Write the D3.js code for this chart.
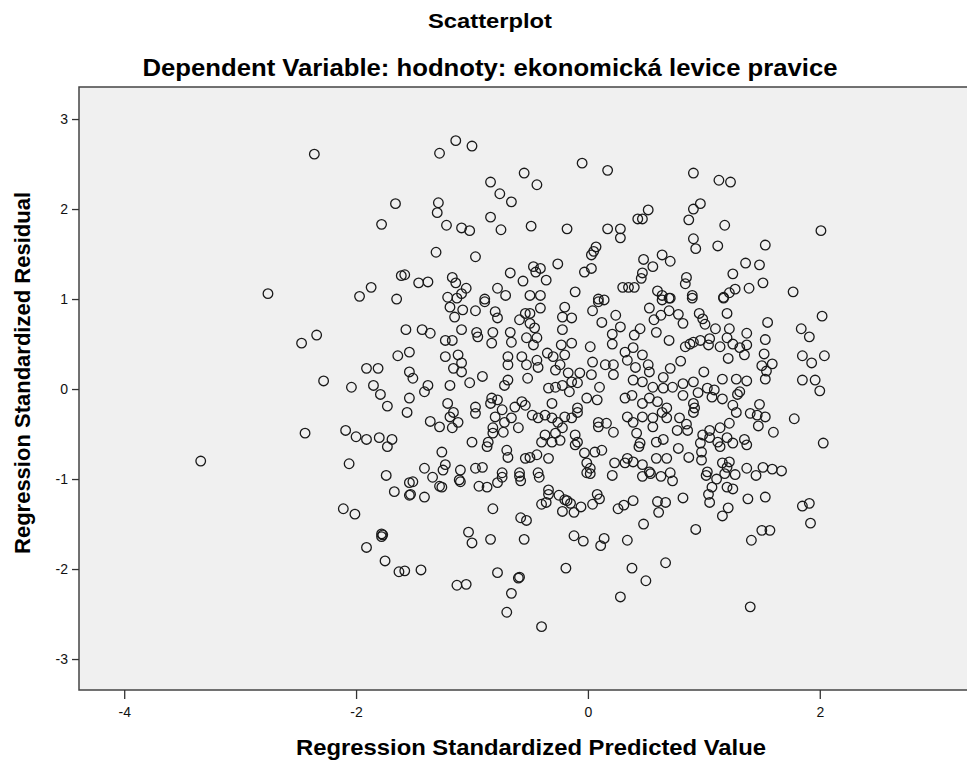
<!DOCTYPE html>
<html>
<head>
<meta charset="utf-8">
<script src="https://cdn.jsdelivr.net/npm/d3@7"></script>
<style>
  body { margin: 0; background: #fff; }
  text { font-family: "Liberation Sans", Arial, sans-serif; }
</style>
</head>
<body>
<svg width="967" height="762"></svg>
<script>
// [standardized predicted value, standardized residual] for each case
const outerCases = [
  [-2.36,2.61],[-1.66,2.06],[-1.78,1.83],[-1.61,1.26],[-1.87,1.13],[-1.97,1.03],[-1.65,1.00],[-2.76,1.06],
  [-1.28,2.62],[-1.14,2.76],[-1.00,2.70],[-0.05,2.51],[0.17,2.43],[-0.55,2.40],[-0.84,2.30],[-0.44,2.27],
  [-0.76,2.17],[-0.66,2.08],[-1.29,2.07],[-1.30,1.96],[-0.84,1.91],[-1.22,1.82],[-1.09,1.79],[-1.02,1.76],
  [-0.75,1.77],[-0.49,1.81],[-0.18,1.78],[0.17,1.78],[0.28,1.78],[0.28,1.68],[-1.31,1.52],[-0.97,1.47],
  [-1.58,1.27],[-1.46,1.18],[-1.38,1.19],[-1.17,1.24],[-1.14,1.18],[-1.05,1.12],[-1.09,1.06],[-1.21,1.02],
  [-0.78,1.12],[-0.71,1.04],[-0.89,1.00],[-0.67,1.29],[-0.56,1.20],[-0.47,1.36],[-0.41,1.34],[-0.45,1.30],
  [-0.36,1.21],[-0.50,1.04],[-0.41,1.04],[-0.26,1.39],[-0.11,1.08],[-0.03,1.30],[0.03,1.34],[0.03,1.49],
  [0.05,1.53],[0.07,1.58],[0.09,1.00],[0.14,0.99],[0.30,1.13],[0.35,1.13],[0.40,1.13],
  [0.91,2.40],[1.13,2.32],[1.23,2.30],[0.97,2.06],[0.91,2.00],[0.87,1.88],[1.18,1.82],[2.01,1.76],
  [0.52,1.99],[0.43,1.89],[0.47,1.89],[0.91,1.67],[0.93,1.56],[1.12,1.59],[1.53,1.60],[0.64,1.49],
  [0.71,1.42],[0.48,1.44],[0.56,1.36],[0.47,1.29],[0.46,1.23],[0.85,1.24],[0.84,1.17],[0.90,1.04],
  [0.60,1.09],[0.64,1.04],[0.70,1.01],[1.25,1.28],[1.36,1.40],[1.48,1.38],[1.51,1.18],[1.39,1.12],
  [1.27,1.11],[1.22,1.07],[1.17,1.02],[1.77,1.08],
  [-1.57,0.66],[-2.34,0.60],[-2.47,0.51],[-1.64,0.37],[-1.54,0.41],[-1.91,0.23],[-1.81,0.23],[-1.54,0.19],
  [-2.28,0.09],[-2.04,0.02],[-1.85,0.04],[-1.79,-0.06],[-1.73,-0.19],[-1.54,-0.10],[-1.56,-0.26],[-2.44,-0.49],
  [-2.09,-0.46],[-2.00,-0.53],[-1.91,-0.56],[-1.80,-0.54],[-1.69,-0.56],[-1.73,-0.64],[-3.34,-0.80],[-2.06,-0.83],
  [-1.74,-0.96],[-1.67,-1.14],[-1.54,-1.04],[-1.54,-1.18],[-2.11,-1.33],[-2.01,-1.39],[-1.78,-1.61],[-1.78,-1.64],
  [-1.77,-1.62],[-1.91,-1.76],[-1.75,-1.91],[-1.63,-2.03],
  [-1.51,-1.03],[-1.53,-1.17],[-1.41,-1.20],[-1.34,-0.98],[-1.28,-1.08],[-1.26,-1.09],[-1.11,-1.01],[-1.10,-1.03],
  [-0.94,-1.08],[-0.87,-1.09],[-0.78,-1.04],[-0.74,-0.98],[-0.59,-0.97],[-0.58,-1.02],[-0.42,-0.98],[-0.82,-1.33],
  [-0.58,-1.43],[-0.53,-1.46],[-1.03,-1.59],[-1.00,-1.71],[-0.84,-1.67],[-0.55,-1.67],[-0.34,-1.12],[-0.34,-1.17],
  [-0.25,-1.18],[-0.40,-1.28],[-0.36,-1.26],[-0.20,-1.23],[-0.18,-1.24],[-0.15,-1.27],[-0.22,-1.36],[-0.12,-1.37],
  [-0.06,-1.31],[0.04,-1.28],[0.08,-1.17],[0.10,-1.22],[-0.01,-0.93],[0.02,-0.94],[0.21,-0.96],[0.26,-1.33],
  [0.31,-1.29],[0.39,-1.24],[-0.12,-1.63],[-0.04,-1.69],[0.11,-1.74],[0.14,-1.66],[0.34,-1.68],[0.38,-1.99],
  [0.28,-2.31],[-1.44,-2.01],[-1.58,-2.02],[-1.13,-2.18],[-1.05,-2.17],[-0.78,-2.04],[-0.59,-2.09],[-0.60,-2.10],
  [-0.66,-2.27],[-0.70,-2.48],[-0.40,-2.64],[-0.19,-1.99],
  [0.47,-0.97],[0.54,-0.94],[0.63,-0.97],[0.73,-1.02],[0.60,-1.25],[0.67,-1.26],[0.61,-1.37],[0.82,-1.21],
  [0.48,-1.50],[0.93,-1.56],[1.02,-0.96],[1.11,-1.00],[1.07,-1.09],[1.04,-1.17],[1.05,-1.26],[1.20,-1.09],
  [1.25,-1.11],[1.21,-1.32],[1.16,-1.41],[1.18,-0.94],[1.27,-0.95],[1.38,-1.22],[1.53,-1.20],[1.45,-0.96],
  [1.41,-1.68],[1.50,-1.57],[1.57,-1.57],[1.85,-1.30],[1.91,-1.27],[1.92,-1.49],[0.67,-1.93],[0.50,-2.13],
  [1.40,-2.42],
  [2.02,0.81],[1.84,0.67],[1.91,0.58],[1.85,0.37],[1.93,0.29],[2.04,0.37],[1.85,0.10],[1.96,0.10],
  [2.00,-0.02],[1.78,-0.33],[2.03,-0.60],[1.55,0.74],[1.53,0.55],[1.52,0.39],[1.50,0.26],[1.59,0.28],
  [1.53,0.11],[1.54,0.20],[1.48,-0.17],[1.46,-0.29],[1.53,-0.31],[1.47,-0.41],[1.60,-0.48],[1.37,-0.62],
  [1.35,-0.56],[1.67,-0.91]
];

const rightCoreCases = [
  [0.53,0.90],[0.63,0.82],[0.70,0.87],[0.78,0.83],[0.71,1.01],[0.90,1.01],[1.17,1.01],[0.64,0.99],
  [1.20,0.84],[0.96,0.84],[0.57,0.77],[0.59,0.63],[0.45,0.67],[0.40,0.60],[0.70,0.54],[0.82,0.73],
  [0.99,0.78],[1.01,0.72],[1.10,0.67],[1.22,0.67],[1.37,0.62],[0.91,0.52],[0.97,0.54],[1.05,0.56],
  [1.04,0.49],[1.14,0.47],[1.20,0.57],[1.25,0.50],[1.31,0.46],[1.37,0.49],[1.35,0.38],[1.21,0.34],
  [0.84,0.47],[0.88,0.50],[0.39,0.46],[0.47,0.38],[0.41,0.24],[0.52,0.27],[0.53,0.19],[0.71,0.23],
  [0.80,0.31],[0.65,0.13],[1.00,0.19],[1.16,0.11],[1.28,0.11],[1.37,0.09],[0.47,0.08],[0.39,0.10],
  [0.56,0.02],[0.65,0.01],[0.73,0.02],[0.82,0.06],[0.91,0.08],[1.03,0.01],[1.09,-0.01],[1.31,-0.03],
  [1.29,-0.06],[0.82,-0.07],[0.95,-0.04],[1.07,-0.09],[1.16,-0.11],[1.25,-0.18],[0.91,-0.16],[0.92,-0.21],
  [0.91,-0.26],[0.53,-0.10],[0.47,-0.16],[0.60,-0.14],[0.68,-0.21],[0.38,-0.07],[1.28,-0.26],[1.40,-0.27],
  [1.22,-0.38],[1.14,-0.43],[1.05,-0.46],[0.99,-0.51],[0.79,-0.32],[0.85,-0.39],[0.86,-0.46],[0.77,-0.46],
  [0.68,-0.32],[0.64,-0.26],[0.56,-0.32],[0.56,-0.42],[0.47,-0.31],[0.42,-0.49],[0.39,-0.37],[0.65,-0.56],
  [0.59,-0.59],[0.45,-0.60],[0.44,-0.64],[0.78,-0.66],[0.97,-0.60],[1.05,-0.54],[1.12,-0.59],[1.14,-0.64],
  [1.20,-0.54],[1.25,-0.60],[0.98,-0.70],[0.98,-0.79],[0.87,-0.76],[0.68,-0.77],[0.59,-0.77],[0.47,-0.84],
  [0.39,-0.81],[1.03,-0.92],[1.16,-0.82],[1.20,-0.87],[1.22,-0.81],[1.37,-0.88],[1.51,-0.87],[1.59,-0.89],
  [0.71,-0.93],[0.53,-0.92]
];

const centreCases = [
  [-1.13,1.01],[-1.19,0.91],[-1.08,0.88],[-1.15,0.80],[-0.97,0.87],[-0.89,0.97],[-0.80,0.86],[-0.78,0.79],
  [-0.54,0.84],[-0.50,0.84],[-0.41,0.90],[-0.20,0.91],[-0.22,0.80],[-0.14,0.79],[0.04,0.87],[0.09,0.97],
  [0.24,0.82],[-1.43,0.66],[-1.36,0.62],[-1.23,0.54],[-1.17,0.54],[-1.09,0.66],[-0.96,0.63],[-0.95,0.58],
  [-0.82,0.63],[-0.83,0.51],[-0.67,0.63],[-0.66,0.52],[-0.59,0.77],[-0.50,0.73],[-0.46,0.68],[-0.53,0.57],
  [-0.44,0.57],[-0.47,0.49],[-0.22,0.66],[-0.23,0.49],[-0.14,0.51],[0.02,0.47],[0.12,0.74],[0.28,0.69],
  [0.21,0.61],[0.21,0.50],[-1.23,0.36],[-1.12,0.38],[-1.09,0.29],[-1.16,0.23],[-1.09,0.19],[-0.91,0.14],
  [-0.69,0.36],[-0.69,0.27],[-0.57,0.36],[-0.53,0.27],[-0.52,0.12],[-0.44,0.32],[-0.43,0.24],[-0.35,0.40],
  [-0.30,0.36],[-0.24,0.27],[-0.28,0.21],[-0.20,0.38],[-0.17,0.18],[-0.07,0.18],[0.03,0.16],[0.04,0.30],
  [0.15,0.27],[0.22,0.27],[0.22,0.16],[0.32,0.41],[0.34,0.32],[-1.51,0.12],[-1.02,0.07],[-1.38,0.04],
  [-1.41,-0.03],[-1.19,0.04],[-0.72,0.04],[-0.69,0.10],[-0.83,-0.10],[-0.84,-0.16],[-0.78,-0.12],[-0.74,-0.23],
  [-0.63,-0.20],[-0.57,-0.14],[-0.54,-0.18],[-0.31,-0.16],[-0.34,0.01],[-0.28,0.02],[-0.22,0.04],[-0.14,0.08],
  [-0.16,-0.03],[-0.09,0.07],[-0.01,-0.10],[0.08,-0.12],[0.10,0.02],[-0.09,-0.21],[-0.09,-0.26],[0.32,-0.10],
  [-1.21,-0.16],[-1.16,-0.26],[-1.19,-0.31],[-0.97,-0.20],[-0.97,-0.27],[-1.36,-0.36],[-1.28,-0.42],[-1.17,-0.43],
  [-1.12,-0.37],[-0.80,-0.31],[-0.72,-0.37],[-0.66,-0.32],[-0.60,-0.43],[-0.73,-0.48],[-0.82,-0.43],[-0.82,-0.49],
  [-0.86,-0.59],[-0.87,-0.64],[-0.48,-0.29],[-0.43,-0.32],[-0.37,-0.29],[-0.31,-0.32],[-0.26,-0.37],[-0.20,-0.31],
  [-0.14,-0.32],[-0.22,-0.43],[-0.28,-0.49],[-0.37,-0.51],[-0.40,-0.59],[-0.31,-0.59],[-0.24,-0.57],[-0.11,-0.51],
  [-0.09,-0.59],[-0.11,-0.62],[0.09,-0.42],[0.16,-0.38],[0.22,-0.48],[0.34,-0.31],[0.09,-0.37],[-1.00,-0.59],
  [-1.26,-0.70],[-0.70,-0.68],[-0.69,-0.76],[-0.54,-0.77],[-0.50,-0.76],[-0.44,-0.73],[-0.34,-0.77],[-0.03,-0.71],
  [0.06,-0.70],[0.12,-0.68],[-0.01,-0.82],[0.02,-0.88],[0.23,-0.82],[0.32,-0.82],[0.34,-0.77],[-1.41,-0.88],
  [-1.23,-0.84],[-1.25,-0.90],[-1.10,-0.90],[-0.97,-0.88],[-0.91,-0.87],[-0.74,-0.93],[-0.59,-0.93],[-0.43,-0.93]
];

const xTicks = [-4, -2, 0, 2];
const yTicks = [-3, -2, -1, 0, 1, 2, 3];

const cases = outerCases.concat(rightCoreCases, centreCases);

const svg = d3.select("svg");
const plot = { left: 79, top: 87, width: 888, height: 603 };

const x = d3.scaleLinear().domain([-4.39, 3.27]).range([0, plot.width]);
const y = d3.scaleLinear().domain([-3.344, 3.356]).range([plot.height, 0]);

const g = svg.append("g").attr("transform", `translate(${plot.left},${plot.top})`);

g.append("rect")
  .attr("x", 0).attr("y", 0)
  .attr("width", plot.width + 10).attr("height", plot.height)
  .attr("fill", "#f0f0f0")
  .attr("stroke", "#444")
  .attr("stroke-width", 1.5);

const fmt = d => String(d);

const leftAxis = d3.axisLeft(y).tickValues(yTicks).tickSize(7).tickPadding(4).tickFormat(fmt);
const bottomAxis = d3.axisBottom(x).tickValues(xTicks).tickSize(9).tickPadding(8).tickFormat(fmt);

const ya = g.append("g").call(leftAxis);
const xa = g.append("g").attr("transform", `translate(0,${plot.height})`).call(bottomAxis);

[ya, xa].forEach(a => {
  a.select(".domain").remove();
  a.selectAll(".tick line").attr("stroke", "#333").attr("stroke-width", 1.3);
  a.selectAll(".tick text").attr("fill", "#111").style("font-size", "14px")
    .style("font-family", "'Liberation Sans', Arial, sans-serif");
});

g.append("g").selectAll("circle").data(cases).enter()
  .append("circle")
  .attr("cx", d => x(d[0]))
  .attr("cy", d => y(d[1]))
  .attr("r", 4.8)
  .attr("fill", "none")
  .attr("stroke", "#1a1a1a")
  .attr("stroke-width", 1.3);

svg.append("text")
  .attr("x", 490).attr("y", 28)
  .attr("text-anchor", "middle")
  .attr("font-weight", "bold").attr("font-size", 21)
  .attr("textLength", 124).attr("lengthAdjust", "spacingAndGlyphs")
  .text("Scatterplot");

svg.append("text")
  .attr("x", 490).attr("y", 76)
  .attr("text-anchor", "middle")
  .attr("font-weight", "bold").attr("font-size", 24)
  .attr("textLength", 695).attr("lengthAdjust", "spacingAndGlyphs")
  .text("Dependent Variable: hodnoty: ekonomická levice pravice");

svg.append("text")
  .attr("x", 531).attr("y", 755)
  .attr("text-anchor", "middle")
  .attr("font-weight", "bold").attr("font-size", 22)
  .attr("textLength", 470).attr("lengthAdjust", "spacingAndGlyphs")
  .text("Regression Standardized Predicted Value");

svg.append("text")
  .attr("transform", "translate(30,373) rotate(-90)")
  .attr("text-anchor", "middle")
  .attr("font-weight", "bold").attr("font-size", 22)
  .attr("textLength", 362).attr("lengthAdjust", "spacingAndGlyphs")
  .text("Regression Standardized Residual");
</script>
</body>
</html>
